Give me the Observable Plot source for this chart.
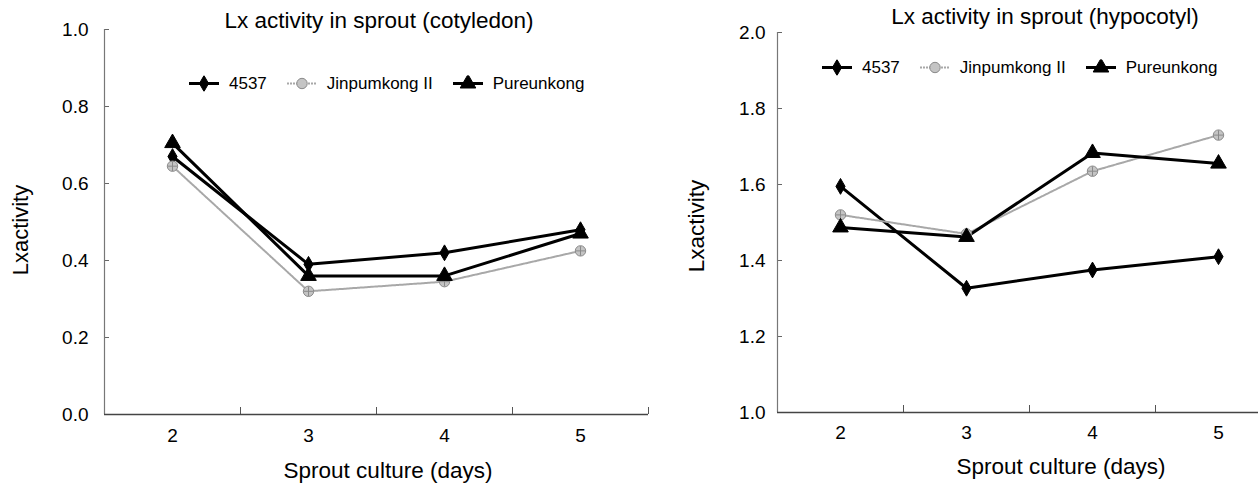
<!DOCTYPE html>
<html><head><meta charset="utf-8">
<script src="https://cdn.jsdelivr.net/npm/d3@7"></script>
<script src="https://cdn.jsdelivr.net/npm/@observablehq/plot@0.6"></script>
<style>
body{margin:0;background:#fff;}
#wrap{position:relative;width:1258px;height:486px;overflow:hidden;font-family:"Liberation Sans",Arial,sans-serif;color:#000;background:#fff;}
.abs{position:absolute;white-space:nowrap;line-height:1;}
.legend{position:absolute;display:flex;align-items:center;font-size:17px;line-height:1;white-space:nowrap;transform:translateY(-50%);}
.legend .item{display:flex;align-items:center;margin-right:20px;}
.legend svg{margin-right:10px;display:block;}
.panel{position:absolute;top:0;}
</style></head><body><div id="wrap"></div>
<script>
// ---- data ----
const days = [2, 3, 4, 5];
const seriesNames = ["4537", "Jinpumkong II", "Pureunkong"];
const cotyledon4537 = [0.67, 0.39, 0.42, 0.48];
const cotyledonJinpumkong = [0.645, 0.32, 0.345, 0.425];
const cotyledonPureunkong = [0.705, 0.36, 0.36, 0.47];
const hypocotyl4537 = [1.595, 1.327, 1.375, 1.41];
const hypocotylJinpumkong = [1.52, 1.47, 1.635, 1.73];
const hypocotylPureunkong = [1.487, 1.462, 1.683, 1.655];
const cotyledonTicks = [0, 0.2, 0.4, 0.6, 0.8, 1.0];
const hypocotylTicks = [1.0, 1.2, 1.4, 1.6, 1.8, 2.0];
const titles = ["Lx activity in sprout (cotyledon)", "Lx activity in sprout (hypocotyl)"];
const xLabel = "Sprout culture (days)";
const yLabel = "Lxactivity";

const FONT = '"Liberation Sans", Arial, sans-serif';
const styles = {
  "4537": {stroke: "#000", width: 3, symbol: "diamond", r: 4.8, fill: "#000", dot: "#000", dash: null},
  "Jinpumkong II": {stroke: "#a8a8a8", width: 2, symbol: "circle", r: 5.2, fill: "#c4c4c4", dot: "#8a8a8a", dash: "2,1"},
  "Pureunkong": {stroke: "#000", width: 3, symbol: "triangle", r: 5.8, fill: "#000", dot: "#000", dash: null}
};

function rowsFrom(arrays) {
  const rows = [];
  seriesNames.forEach((s, i) => days.forEach((d, j) => rows.push({day: d, value: arrays[i][j], series: s})));
  return rows;
}

function panel({rows, yDomain, yTicks, width, height, mL, mT, mB, mR, xRange, yPad, xPad}) {
  const innerW = width - mL - mR, innerH = height - mT - mB;
  const bounds = [1.5, 2.5, 3.5, 4.5, 5.5];
  const marks = [
    Plot.axisY({ticks: yTicks, tickSize: 0, tickPadding: yPad, tickFormat: d3.format(".1f"), label: null, fontSize: 19}),
    Plot.axisX({ticks: days, tickSize: 0, tickPadding: xPad, tickFormat: d => String(d), label: null, fontSize: 19}),
    Plot.ruleY(yTicks, {y: d => d, insetRight: innerW - 5, stroke: "#666", strokeWidth: 1}),
    Plot.ruleX(bounds.slice(1), {x: d => d, insetTop: innerH - 7, stroke: "#555", strokeWidth: 1}),
    Plot.ruleX([1.5], {x: d => d, stroke: "#777", strokeWidth: 1.2}),
    Plot.ruleY([yDomain[0]], {y: d => d, stroke: "#444", strokeWidth: 1.3})
  ];
  for (const s of seriesNames) {
    const st = styles[s];
    const data = rows.filter(r => r.series === s);
    marks.push(Plot.line(data, {x: "day", y: "value", stroke: st.stroke, strokeWidth: st.width, strokeDasharray: st.dash}));
  }
  for (const s of seriesNames) {
    const st = styles[s];
    const data = rows.filter(r => r.series === s);
    marks.push(Plot.dot(data, {x: "day", y: "value", symbol: st.symbol, r: st.r, fill: st.fill, stroke: st.dot, strokeWidth: 1}));
    if (s === "Jinpumkong II") {
      marks.push(Plot.dot(data, {x: "day", y: "value", symbol: "plus", r: 3.2, stroke: "#8a8a8a", strokeWidth: 1}));
    }
  }
  return Plot.plot({
    width, height, marginLeft: mL, marginTop: mT, marginBottom: mB, marginRight: mR,
    style: {fontFamily: FONT, fontSize: "19px", color: "#000", background: "transparent", overflow: "hidden"},
    x: {type: "linear", domain: [1.5, 5.5], range: xRange},
    y: {domain: yDomain, range: [height - mB, mT]},
    marks
  });
}

const wrap = document.getElementById("wrap");

const left = panel({
  rows: rowsFrom([cotyledon4537, cotyledonJinpumkong, cotyledonPureunkong]),
  yDomain: [0, 1], yTicks: cotyledonTicks,
  width: 660, height: 486, mL: 104, mT: 29, mB: 72, mR: 12, xRange: [104, 648], yPad: 16, xPad: 14
});
left.classList.add("panel"); left.style.left = "0px";
wrap.appendChild(left);

const right = panel({
  rows: rowsFrom([hypocotyl4537, hypocotylJinpumkong, hypocotylPureunkong]),
  yDomain: [1, 2], yTicks: hypocotylTicks,
  width: 618, height: 486, mL: 137, mT: 32, mB: 74, mR: 0, xRange: [137, 641], yPad: 12, xPad: 13
});
right.classList.add("panel"); right.style.left = "640px";
wrap.appendChild(right);

function addText(txt, x, y, size, rot) {
  const d = document.createElement("div");
  d.className = "abs";
  d.style.left = x + "px"; d.style.top = y + "px"; d.style.fontSize = size + "px";
  d.style.transform = rot ? "translate(-50%,-50%) rotate(-90deg)" : "translate(-50%,-50%)";
  d.textContent = txt;
  wrap.appendChild(d);
}
addText(titles[0], 379, 21, 22.5, false);
addText(titles[1], 1045, 17, 22.5, false);
addText(xLabel, 388, 471, 22.5, false);
addText(xLabel, 1061, 467, 22.5, false);
addText(yLabel, 21, 230, 22, true);
addText(yLabel, 697, 226, 22.5, true);

function symbolSvg(s) {
  const st = styles[s];
  const ns = "http://www.w3.org/2000/svg";
  const svg = document.createElementNS(ns, "svg");
  svg.setAttribute("width", 30); svg.setAttribute("height", 16);
  const line = document.createElementNS(ns, "line");
  line.setAttribute("x1", 0); line.setAttribute("x2", 30); line.setAttribute("y1", 8); line.setAttribute("y2", 8);
  line.setAttribute("stroke", st.stroke); line.setAttribute("stroke-width", st.width);
  if (st.dash) line.setAttribute("stroke-dasharray", st.dash);
  svg.appendChild(line);
  const sym = document.createElementNS(ns, "path");
  const sizes = {diamond: d3.symbolDiamond, circle: d3.symbolCircle, triangle: d3.symbolTriangle};
  sym.setAttribute("d", d3.symbol(sizes[st.symbol], Math.PI * st.r * st.r)());
  sym.setAttribute("transform", "translate(15,8)");
  sym.setAttribute("fill", st.fill); sym.setAttribute("stroke", st.dot);
  svg.appendChild(sym);
  return svg;
}
function addLegend(x, y) {
  const lg = document.createElement("div");
  lg.className = "legend";
  lg.style.left = x + "px"; lg.style.top = y + "px";
  for (const s of seriesNames) {
    const it = document.createElement("div");
    it.className = "item";
    it.appendChild(symbolSvg(s));
    const t = document.createElement("span");
    t.textContent = s;
    it.appendChild(t);
    lg.appendChild(it);
  }
  wrap.appendChild(lg);
}
addLegend(189, 83);
addLegend(822, 67);
</script></body></html>
